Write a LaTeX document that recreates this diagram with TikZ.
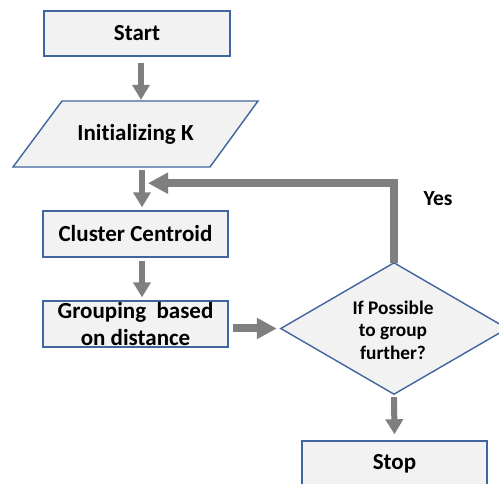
\documentclass[tikz,border=0pt]{standalone}
\usepackage{fontspec}
\setmainfont{Carlito}[Ligatures={NoCommon}]
\usetikzlibrary{arrows.meta,calc}
\definecolor{boxfill}{HTML}{F2F2F2}
\definecolor{boxline}{HTML}{41659E}
\definecolor{arrowgray}{HTML}{7F7F7F}
\begin{document}
\begin{tikzpicture}[x=1pt,y=-1pt,
  shapeline/.style={draw=boxline,fill=boxfill,line width=1.4pt},
  box/.style={shapeline,minimum width=185pt,minimum height=45pt,inner sep=0pt,
    align=center,font=\fontsize{23}{27}\selectfont\bfseries},
  txt/.style={inner sep=0pt,align=center,font=\fontsize{23}{27}\selectfont\bfseries},
  flow/.style={draw=arrowgray,line width=6pt,line join=miter,
    -{Triangle[length=15pt,width=17pt]}},
  bigflow/.style={draw=arrowgray,line width=7.5pt,line join=miter,
    -{Triangle[length=20pt,width=20pt]}}]
\useasboundingbox (0,0) rectangle (499,484);
\clip (0,0) rectangle (499,484);
\fill[white] (0,0) rectangle (499,484);

% nodes
\node[box,minimum width=186pt] (start) at (137,33.5) {Start};
\draw[shapeline] (62,101) -- (258,101) -- (210,167) -- (13,167) -- cycle;
\node[txt,minimum width=150pt,minimum height=66pt] (init) at (135.5,134) {Initializing K};
\node[box,minimum height=46pt] (cluster) at (135.5,234) {Cluster Centroid};
\node[box,minimum height=46pt] (group) at (135.5,324) {Grouping~ based\\on distance};
\node[txt,minimum width=226pt,minimum height=131pt,
  font=\fontsize{19.3}{22.5}\selectfont\bfseries] (dec) at (394,328.5) {};
\draw[shapeline] (dec.west) -- (dec.north) -- (dec.east) -- (dec.south) -- cycle;
\node[txt,font=\fontsize{19.3}{22.5}\selectfont\bfseries] (dectext) at (393,330)
  {If Possible\\to group\\further?};
\node[box,minimum height=46pt] (stop) at (394.5,464) {Stop};
\node[txt,font=\fontsize{21.5}{25}\selectfont\bfseries] (yes) at (438,199) {Yes};

% connectors
\draw[flow] ($(start.south)+(4,6)$) -- ($(init.north)+(5.5,-1)$);
\draw[flow] ($(init.south)+(6.5,3)$) -- ($(cluster.north)+(6.5,-3)$);
\draw[flow] ($(cluster.south)+(6.5,3)$) -- ($(group.north)+(6.5,-3)$);
\draw[draw=arrowgray,line width=8pt,-{Triangle[length=20pt,width=20pt]}]
  ($(group.east |- dec.west)+(4,0)$) -- ($(dec.west)+(-4,0)$);
\draw[bigflow] (dec.north) |- ($(init.south)+(12.5,16)$);
\draw[flow] ($(dec.south)+(0,3)$) -- ($(stop.north)+(0,-6)$);
\end{tikzpicture}
\end{document}
